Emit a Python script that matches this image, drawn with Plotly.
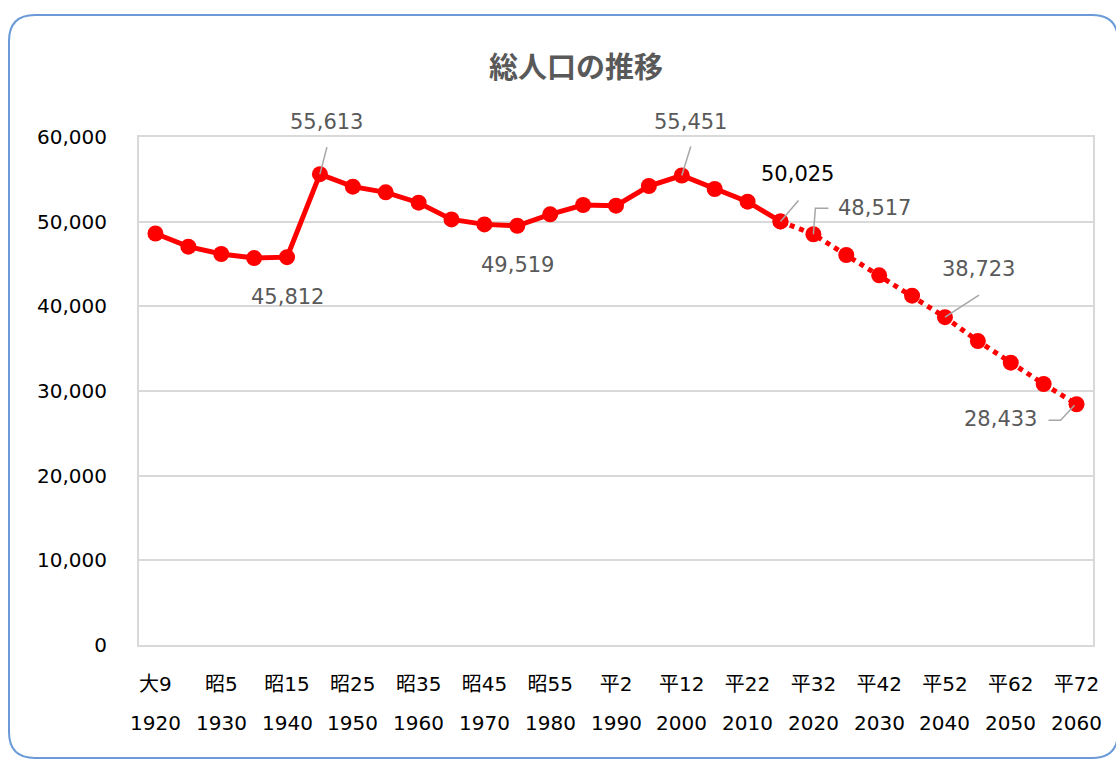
import plotly.graph_objects as go

# ---- data ----
years = [1920, 1925, 1930, 1935, 1940, 1945, 1950, 1955, 1960, 1965,
         1970, 1975, 1980, 1985, 1990, 1995, 2000, 2005, 2010, 2015,
         2020, 2025, 2030, 2035, 2040, 2045, 2050, 2055, 2060]
population = [48600, 47050, 46180, 45700, 45812, 55613, 54130, 53460, 52240, 50270,
              49680, 49519, 50870, 51970, 51890, 54210, 55451, 53860, 52360, 50025,
              48517, 46060, 43660, 41260, 38723, 35900, 33350, 30830, 28433]
actual_count = 20  # 1920-2015 actual, 2015-2060 projected

tick_years = [1920, 1930, 1940, 1950, 1960, 1970, 1980, 1990, 2000, 2010,
              2020, 2030, 2040, 2050, 2060]
era_labels = ["大9", "昭5", "昭15", "昭25", "昭35", "昭45", "昭55", "平2",
              "平12", "平22", "平32", "平42", "平52", "平62", "平72"]
year_labels = ["1920", "1930", "1940", "1950", "1960", "1970", "1980", "1990",
               "2000", "2010", "2020", "2030", "2040", "2050", "2060"]

title_text = "総人口の推移"
labeled_years = [1945, 1940, 1975, 2000, 2015, 2020, 2040, 2060]

# ---- layout constants ----
W, H = 1116, 760
L, R, T, B = 139, 1093, 137, 645
FONT = "DejaVu Sans, Noto Sans CJK JP, sans-serif"
RED = "#FF0000"
LABEL = "#595959"
GRID = "#D9D9D9"

fig = go.Figure()
fig.add_trace(go.Scatter(
    x=years[:actual_count], y=population[:actual_count],
    mode="lines+markers",
    line=dict(color=RED, width=5),
    marker=dict(color=RED, size=16),
    hoverinfo="x+y", showlegend=False))
fig.add_trace(go.Scatter(
    x=years[actual_count - 1:], y=population[actual_count - 1:],
    mode="lines+markers",
    line=dict(color=RED, width=5, dash="dot"),
    marker=dict(color=RED, size=16),
    hoverinfo="x+y", showlegend=False))

def val(yr):
    return population[years.index(yr)]

# label styling: (xshift, yshift, xanchor, color)
label_style = {
    1945: (7, 52, "center", LABEL),
    1940: (0, -40, "center", LABEL),
    1975: (0, -39, "center", LABEL),
    2000: (9, 54, "center", LABEL),
    2015: (17, 47, "center", "#000000"),
    2020: (23, 26, "left", LABEL),
    2040: (34, 48, "center", LABEL),
    2060: (-38, -15, "right", LABEL),
}
annotations = []
for yr in labeled_years:
    xs, ys, xa, col = label_style[yr]
    v = val(yr)
    annotations.append(dict(
        x=yr, y=v, xref="x", yref="y", text=f"{v:,}", showarrow=False,
        xshift=xs, yshift=ys, xanchor=xa, yanchor="middle",
        font=dict(family=FONT, size=21, color=col)))

# second tick row (western years)
for ty, lab in zip(tick_years, year_labels):
    annotations.append(dict(
        x=ty, y=(B - 723) / (B - T), xref="x", yref="paper", text=lab,
        showarrow=False, xanchor="center", yanchor="middle",
        font=dict(family=FONT, size=20, color="#000000")))

# leader lines (pixel offsets relative to the data point, y up)
leaders = {
    1945: "M 7,27 L 0,0",
    2000: "M 9,29 L 0,0",
    2015: "M 18,21 L 0,0",
    2020: "M 15,26 L 2,26 L 0,0",
    2040: "M 34,22 L 0,0",
    2060: "M -28,-16 L -16,-16 L -2,-1",
}
shapes = []
for yr, p in leaders.items():
    shapes.append(dict(
        type="path", xref="x", yref="y", xsizemode="pixel", ysizemode="pixel",
        xanchor=yr, yanchor=val(yr), path=p,
        line=dict(color="#A6A6A6", width=1.5), layer="above"))

# rounded chart border
def px(x):
    return (x - L) / (R - L)
def py(y):
    return (B - y) / (B - T)
x0, y0, x1, y1, r = 9, 15, 1118, 758, 26
border = (f"M {px(x0)},{py(y0 + r)} Q {px(x0)},{py(y0)} {px(x0 + r)},{py(y0)} "
          f"L {px(x1 - r)},{py(y0)} Q {px(x1)},{py(y0)} {px(x1)},{py(y0 + r)} "
          f"L {px(x1)},{py(y1 - r)} Q {px(x1)},{py(y1)} {px(x1 - r)},{py(y1)} "
          f"L {px(x0 + r)},{py(y1)} Q {px(x0)},{py(y1)} {px(x0)},{py(y1 - r)} Z")
shapes.append(dict(type="path", xref="paper", yref="paper", path=border,
                   line=dict(color="#6A9BD8", width=2), layer="below"))

fig.update_layout(
    width=W, height=H,
    margin=dict(l=L, r=W - R, t=T, b=H - B, pad=0),
    paper_bgcolor="white", plot_bgcolor="white",
    font=dict(family=FONT, size=20, color="#000000"),
    title=dict(text=f"<b>{title_text}</b>", x=(576 - L) / (R - L), xref="paper",
               xanchor="center", y=1 - 68 / H, yref="container", yanchor="middle",
               font=dict(family="Noto Sans CJK JP, sans-serif", size=29, color=LABEL)),
    xaxis=dict(range=[1917.5, 2062.5], tickmode="array", tickvals=tick_years,
               ticktext=era_labels, showgrid=False, zeroline=False,
               showline=True, mirror=True, linecolor=GRID, linewidth=2,
               ticks="", ticklabelstandoff=20,
               tickfont=dict(family=FONT, size=20, color="#000000")),
    yaxis=dict(range=[0, 60000], tickmode="array",
               tickvals=[0, 10000, 20000, 30000, 40000, 50000, 60000],
               tickformat=",", showgrid=True, gridcolor=GRID, gridwidth=1.5,
               zeroline=False, showline=True, mirror=True, linecolor=GRID,
               linewidth=2, ticks="", ticklabelstandoff=26,
               tickfont=dict(family=FONT, size=20, color="#000000")),
    annotations=annotations, shapes=shapes,
)

fig.write_html("out.html", config={"displayModeBar": False},
               post_script="document.body.style.margin='0';document.body.style.overflow='hidden';")
